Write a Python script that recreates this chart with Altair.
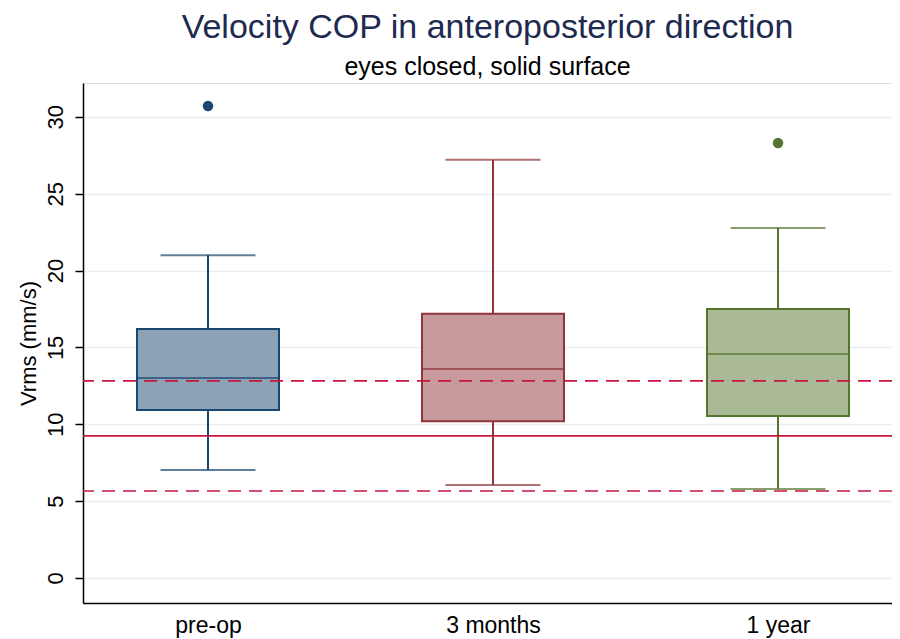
import altair as alt
import pandas as pd

groups = ["pre-op", "3 months", "1 year"]
lower_whisker = [7.03, 6.05, 5.79]
q1 = [10.93, 10.2, 10.54]
median = [13.0, 13.6, 14.57]
q3 = [16.2, 17.18, 17.5]
upper_whisker = [21.0, 27.2, 22.77]
outlier_group = ["pre-op", "1 year"]
outlier_value = [30.7, 28.3]
ref_solid = [9.24]
ref_dashed = [12.82, 5.66]

line_colors = ["#1a476f", "#90353b", "#55752f"]
fill_colors = ["#8ca3b7", "#c79a9d", "#aaba97"]
ref_color = "#c8173f"

box_df = pd.DataFrame({
    "group": groups, "lw": lower_whisker, "q1": q1, "med": median,
    "q3": q3, "uw": upper_whisker,
})
out_df = pd.DataFrame({"group": outlier_group, "value": outlier_value})
ref_s_df = pd.DataFrame({"y": ref_solid})
ref_d_df = pd.DataFrame({"y": ref_dashed})

font = "Liberation Sans"
xscale = alt.Scale(type="point", domain=groups, padding=0.4193, align=0.523)
yscale = alt.Scale(domain=[-1.63, 32.2], nice=False, zero=False)

x_enc = alt.X("group:N", scale=xscale, sort=groups,
              axis=alt.Axis(title=None, ticks=False, labelAngle=0, labelFontSize=23,
                            labelFont=font, labelColor="#000000", labelPadding=11,
                            domainColor="#000000", domainWidth=1.5, grid=False))
y_axis = alt.Axis(values=[0, 5, 10, 15, 20, 25, 30], title="Vrms (mm/s)",
                  titleFontSize=22, titleFont=font, titleFontWeight="normal",
                  titleColor="#000000", titlePadding=4,
                  labelAngle=-90, labelFontSize=22, labelFont=font, labelColor="#000000",
                  labelAlign="center", labelBaseline="bottom", labelPadding=8,
                  tickSize=8, tickColor="#000000", tickWidth=1.5,
                  domainColor="#000000", domainWidth=1.5,
                  grid=True, gridColor="#e8eef2", gridWidth=1.5)

color_scale = alt.Scale(domain=groups, range=line_colors)
fill_scale = alt.Scale(domain=groups, range=fill_colors)

base = alt.Chart(box_df)

whisk_up = base.mark_rule(strokeWidth=2).encode(
    x=x_enc, y=alt.Y("q3:Q", scale=yscale, axis=y_axis), y2="uw:Q",
    color=alt.Color("group:N", scale=color_scale, legend=None))
whisk_lo = base.mark_rule(strokeWidth=2).encode(
    x=x_enc, y=alt.Y("lw:Q", scale=yscale), y2="q1:Q",
    color=alt.Color("group:N", scale=color_scale, legend=None))
cap_up = base.mark_tick(orient="horizontal", size=95, thickness=2).encode(
    x=x_enc, y=alt.Y("uw:Q", scale=yscale),
    color=alt.Color("group:N", scale=color_scale, legend=None))
cap_lo = base.mark_tick(orient="horizontal", size=95, thickness=2).encode(
    x=x_enc, y=alt.Y("lw:Q", scale=yscale),
    color=alt.Color("group:N", scale=color_scale, legend=None))
box = base.mark_bar(size=142, strokeWidth=2).encode(
    x=x_enc, y=alt.Y("q1:Q", scale=yscale), y2="q3:Q",
    fill=alt.Fill("group:N", scale=fill_scale, legend=None),
    stroke=alt.Stroke("group:N", scale=color_scale, legend=None))
med = base.mark_tick(orient="horizontal", size=142, thickness=2).encode(
    x=x_enc, y=alt.Y("med:Q", scale=yscale),
    color=alt.Color("group:N", scale=color_scale, legend=None))
outl = alt.Chart(out_df).mark_circle(size=110, opacity=1).encode(
    x=x_enc, y=alt.Y("value:Q", scale=yscale),
    color=alt.Color("group:N", scale=color_scale, legend=None))

ref_s = alt.Chart(ref_s_df).mark_rule(color=ref_color, strokeWidth=1.6).encode(
    y=alt.Y("y:Q", scale=yscale))
ref_d = alt.Chart(ref_d_df).mark_rule(color=ref_color, strokeWidth=1.6,
                                      strokeDash=[13, 8]).encode(
    y=alt.Y("y:Q", scale=yscale))

chart = alt.layer(whisk_up, whisk_lo, cap_up, cap_lo, box, med, ref_s, ref_d, outl).properties(
    width=809, height=520,
    title=alt.TitleParams(
        text="Velocity COP in anteroposterior direction",
        subtitle="eyes closed, solid surface",
        fontSize=34, font=font, fontWeight="normal", color="#1e2a4f",
        subtitleFontSize=25, subtitleFont=font, subtitleColor="#000000",
        subtitlePadding=10, anchor="middle", offset=3),
    autosize=alt.AutoSizeParams(type="none"),
    padding={"left": 75, "top": 75, "right": 0, "bottom": 36},
).configure_view(stroke=None).configure(background="#ffffff")

chart.save("out.html", embed_options={"renderer": "svg", "actions": False})
